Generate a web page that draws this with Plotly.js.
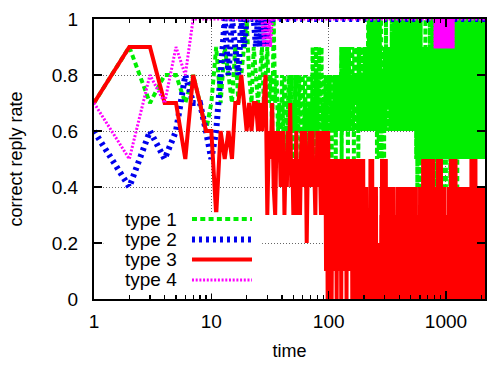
<!DOCTYPE html>
<html>
<head>
<meta charset="utf-8">
<script src="https://cdn.plot.ly/plotly-3.0.1.min.js"></script>
<style>
  html, body { margin: 0; padding: 0; background: #fff; }
  #chart { width: 489px; height: 366px; }
</style>
</head>
<body>
<div id="chart"></div>
<script>
// Correct reply rate per time step for four agent types.
// Each step is one character: '0'..'9' = 0.0..0.9, 'a' = 1.0.
// A chunk written as "pattern*n" repeats the pattern n times.
const firstStep = 1;
const lastStep = 2150;

const seriesNames = ['type 1', 'type 2', 'type 3', 'type 4'];

const type1Steps = [
  "7978878767979879789a8798789789786a7867586875786857",
  "68576875687685748675869758697685976895768768578678",
  "78678576876877586786786868795879687697867896758796",
  "87697867986785976879768796875896786978678976879687",
  "6879687986789768a97a8697a8769a78a6987a6897a869a786",
  "8a7968a59786a9785a6978a697859a86798579687968795876",
  "8976897a86978698796878986797868967986897 6898a79867".replace(/ /g, ''),
  "79868978698a97896a879a78968a978796a98769a879698a78",
  "9a87968a798697a89786a978697a897869a879689a8796a879",
  "8796a98a679a87869a786a98796a8797a8697869a7896a9786",
  "89a7968a797869a98a769a87697a896897a968798a7968a978",
  "96a8795a867a95869a748a69758a96a8759684a769a8579a68",
  "a795869a578697586948795869875968795869789657896859",
  "78695796848975869a68597869875986975849697859698578",
  "9685978695786958976884979685a769785968978596789586",
  "97869589786895a79a68a759a86a975a98a6795a8a697a859a",
  "7a958a69a86a97a85a79a86a59a7a896a74a89a6a79a68a597",
  "8a69a75a98a67a958a697a8a596a87a95a68a7a96a8a759a86",
  "9a7a85a69a7a59a86a78a69a75a8a68a7a94a68aa58a79a6a7",
  "a86a95a7a86a9a57a8a6a7a69a58a97a86a9a5a8a69a78a4a7",
  "8a5a97a6a8a79a68a5a79a6a85a7a9a58a97a6a86a9a78a5a9",
  "a7a68a95a87a9a56a8a7a68a79a5a89a7a68a4a9a86a97a5a6",
  "8a9a75a6a8a69a87a5a77a8a69a5a9a78a96a4a86a7a98a5a7",
  "9a76a8a59a87a6a9a58aa79a86a7a58a9a67a8a9a5a78a69a7",
  "8a69a7a58a9a7a86a9a6a58a97a6a87a9a68a5a9a86a79a4a7",
  "9a8a65a7a8a69a87a5a97a8a96a6a8a57a89a7a68a9a68a5a9",
  "a76a98a5a89a6a87a9a5a89a76a8a67a5a98a6a9a87a69a5a8",
  "8a9a67a8a5a76a98a6a99a8a57a7a8a69a86a9a76a8a95a7a9",
  "8796a879689586978a7968978695789768a968797895869786",
  "9678597a8689678697587a96879686978596879786 97a58968".replace(/ /g, '') + "8",
  "a79a86a9a78a6a97a5a8a97a68a9a69a8a75a8a9a68a97a6a8",
  "7a9a86a5a9a87a69a8a79a6a98a7a5a98a76a9a88a7a69a8a6",
  "a69a87a5a97a8a96a8a7a95a78a6a89a7a86a9a5a86a97a7a8",
  "8a9a65a8a9a78a97a6a76a9a88a5a9a87a69a7a89a6a78a9a5",
  "a98a67a8a97a6a98a5a8a79a86a9a78a5a97a6a9a86a79a8a6",
  "9a7a86a9a5a68a97a7a87a9a65a8a9a87a98a6a78a6a79a5a9",
  "a97a68a8a79a8a56a9a8a76a99a7a68a9a87a5a9a68a79a6a8",
  "7a9a86a7a5a86a97a9a89a7a65a8a7a98a76a9a68a5a89a7a9",
  "a79a68a9a76a8a97a5a8a97a86a7a98a6a79a8a5a89a67a9a7",
  "8967a98678978586979678695879688976a968579687958769",
  "7968798596 8a79687958968796879678 59a796878697869a79".replace(/ /g, ''),
  "a86a97a5a89a7a68a9a7a69a85a8a67a9a96a7a8a87a69a5a9",
  "8a6a97a8a7a98a76a6a97a8a59a9a8a69a87a7a69a7a98a5a8"
];

const type2Steps = [
  "6465687765",
  "68a8a98a9a",
  "aaa9a9a9a9",
  "a",
  "a*2119"
];

const type3Steps = [
  "79977587663656577876767767678365743656456354657453",
  "54635435645465245465456454354654564354654635145064",
  "31425032413524130423521432403524132531423045213423",
  "42315324031425321430243152341230421352431243025134",
  "23140231423102132012201321532041235024312301423102",
  "31402101201202102110201210120132415203124023512032",
  "24130251321340213204213024123102314201321420312410",
  "31204213021320123102310213201220312401321240312041",
  "20314210324123012431021324012314023120132134021302",
  "13024123012031210321230121320412304123103241023142",
  "02314203124130214230124301231420132410231420312401",
  "23140213201230213210210321203120132102313120231021",
  "42130241320134210324120314230124103215302143021341",
  "30214251302413021432015231402312403125103214023124",
  "13025142302143012351032412031421302514301234021320",
  "31420351240213420132410235120324130214230132410231",
  "20314213024120312430132402131204213021432103241203",
  "13520412302143502132401231520312403213402315024132",
  "02413520132130421320142301243102134201324102312403",
  "21304213201342013241023120312023102132013120231021",
  "20312103213201231023123012031203121023102132013210",
  "31202413021432013421024132014321034213024123014231",
  "02513420132410352130132402153240132142031253042130",
  "21340251320412301423102541320132410231420312451023",
  "41203512402314021324103212031202132012312031210230",
  "13201231023120213021201321023102312013201203123012",
  "20314213024123024130213402132401231420312410321420",
  "31024132012341023142013240123142013214023124013210",
  "24130214310231420132140231204321302413021324012310",
  "42013241032130214231032410213214032124013210423120",
  "13420123142013241032124031230142130214230132410231",
  "24013214031230412310312402132402131420312301421302",
  "14203124302134021321402312041321034213021324015230",
  "21430251320412310524132041235021340213251024312034",
  "23104251301243021452301241320514230124310251342013",
  "41203512430213412052314023124013520413214023124103",
  "21340213241023142031241302143201324102314201324102",
  "31240132140231420132134021324120132410231420312410",
  "23140213024123014231021342013214023124032130421320",
  "13240123142031241032412031420132140231240132412031",
  "24103214301234021321402312410321304213240213142031",
  "31240213021432013421024132014321034213024123014231",
  "02314210324123024130213402132410231420312410321420"
];

const type4Steps = [
  "758798a",
  "a*20",
  "9a9a9",
  "a*772",
  "9a99a9aa9a9a99aa9a9a9aa99a9a9a99a9aa9a9a99a9a9aa9a",
  "a9a99a9a9aa99a9aa9a99a9a9a99aa9a9a99a9a9a9aa9a9a99",
  "9aa9a99a9a9a9aa9a99aa9a9a9a9aa99a9a9a9a9a9a99a9aa9",
  "a99a9a9aa9a9a9a99a9a9a9aa9a9a9a99a9a9a9a9a9a99a9aa",
  "9a9a9aa99a9a9a9a9aa9a99a9a9a9a9aa9a9a99aa9a9a9aa9a",
  "99a9a9a9aa9a9a99a9a9a9aa9a9a99a9a9a9aa9a9a99a9a9a9",
  "a9a9aa9a9a99a9a9a9aa9a9a9a99a9a9aa9a9a9a9a9a99a9aa",
  "a*996"
];

const seriesSteps = [type1Steps, type2Steps, type3Steps, type4Steps];

const seriesStyles = [
  { color: '#00ee00', width: 4, dash: '5px,3.3px' },
  { color: '#0000ee', width: 6, dash: '3px,4px' },
  { color: '#ff0000', width: 4, dash: 'solid' },
  { color: '#ff00ff', width: 3, dash: '2px,1.7px' }
];

const xTickVals = [1, 10, 100, 1000];
const xTickText = ['1', '10', '100', '1000'];

function decodeSteps(chunks) {
  const values = [];
  for (const chunk of chunks) {
    const m = chunk.match(/^(.+)\*(\d+)$/);
    const s = m ? m[1].repeat(Number(m[2])) : chunk;
    for (const ch of s) values.push(ch === 'a' ? 1 : Number(ch) / 10);
  }
  return values;
}

// minor log ticks 2..9 in every decade
const minorTicks = [];
for (let d = 1; d <= 1000; d *= 10) {
  for (let k = 2; k <= 9; k++) {
    if (d * k <= lastStep) minorTicks.push(d * k);
  }
}

const traces = seriesSteps.map((chunks, i) => {
  const y = decodeSteps(chunks).slice(0, lastStep - firstStep + 1);
  const x = y.map((_, j) => firstStep + j);
  return {
    type: 'scatter',
    mode: 'lines',
    name: seriesNames[i],
    x: x,
    y: y,
    hoverinfo: 'skip',
    line: Object.assign({ simplify: false, shape: 'linear' }, seriesStyles[i])
  };
});

// key: opaque box, right-aligned labels, line samples to their right
const keyRowY = [0.2857, 0.2125, 0.1411, 0.0679];
const keyTextX = 0.2174;
const keySampleX = [0.2506, 0.4041];

const shapes = [{
  type: 'rect', xref: 'paper', yref: 'paper', layer: 'above',
  x0: 0.024, x1: 0.43, y0: 0.02, y1: 0.31,
  fillcolor: '#ffffff', line: { width: 0 }
}];
const annotations = [];
seriesNames.forEach((name, i) => {
  shapes.push({
    type: 'line', xref: 'paper', yref: 'paper', layer: 'above',
    x0: keySampleX[0], x1: keySampleX[1], y0: keyRowY[i], y1: keyRowY[i],
    line: { color: seriesStyles[i].color, width: seriesStyles[i].width, dash: seriesStyles[i].dash }
  });
  annotations.push({
    xref: 'paper', yref: 'paper', x: keyTextX, y: keyRowY[i],
    xanchor: 'right', yanchor: 'middle', showarrow: false,
    text: name, font: { size: 19, color: '#000' }
  });
});

const axisCommon = {
  showline: true, linecolor: '#000', linewidth: 2, mirror: 'allticks',
  ticks: 'inside', ticklen: 8, tickwidth: 1.3, tickcolor: '#000',
  showgrid: true, gridcolor: '#666', gridwidth: 1, griddash: '1px,2px',
  zeroline: false, automargin: false,
  tickfont: { size: 19, color: '#000' }
};

const layout = {
  width: 489, height: 366,
  margin: { l: 94, r: 4, t: 19, b: 67 },
  paper_bgcolor: '#fff', plot_bgcolor: '#fff',
  font: { family: '"Liberation Sans", Arial, sans-serif', size: 19, color: '#000' },
  showlegend: false,
  xaxis: Object.assign({}, axisCommon, {
    type: 'log',
    range: [Math.log10(firstStep), Math.log10(lastStep)],
    tickmode: 'array', tickvals: xTickVals, ticktext: xTickText,
    ticklabelstandoff: 4,
    minor: { tickmode: 'array', tickvals: minorTicks, ticks: 'inside', ticklen: 4, tickcolor: '#000', showgrid: false },
    title: { text: 'time', standoff: 14, font: { size: 18 } }
  }),
  yaxis: Object.assign({}, axisCommon, {
    range: [0, 1], tick0: 0, dtick: 0.2,
    ticklabelstandoff: 10,
    title: { text: 'correct reply rate', standoff: 24, font: { size: 18 } }
  }),
  shapes: shapes,
  annotations: annotations
};

Plotly.newPlot('chart', traces, layout, { staticPlot: true, displayModeBar: false });
</script>
</body>
</html>
